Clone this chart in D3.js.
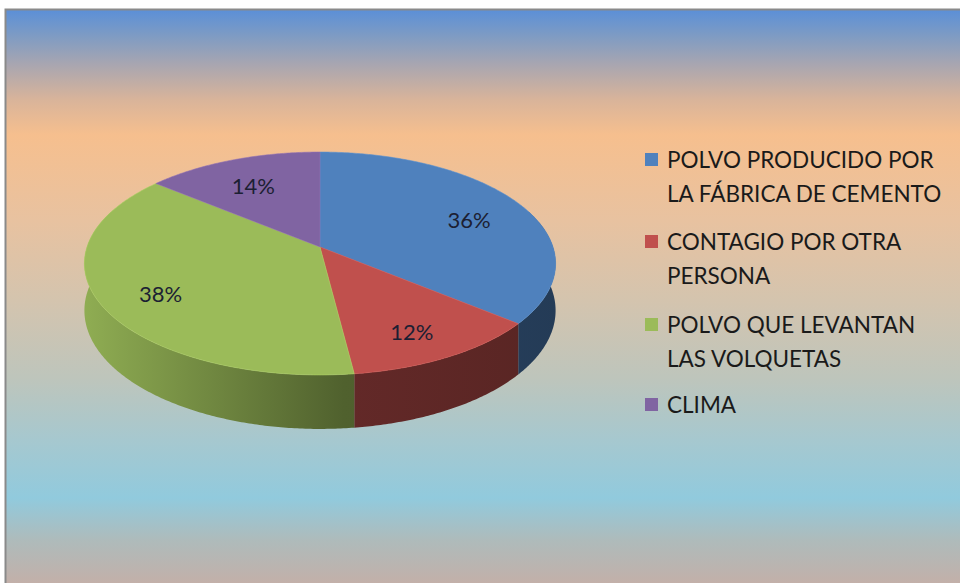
<!DOCTYPE html>
<html>
<head>
<meta charset="utf-8">
<script src="https://cdn.jsdelivr.net/npm/d3@7"></script>
<style>
  html, body { margin: 0; padding: 0; background: #fff; }
  svg { display: block; }
</style>
</head>
<body>
<div id="wrapper"></div>
<script>
// data
const categories = [
  "POLVO PRODUCIDO POR LA FÁBRICA DE CEMENTO",
  "CONTAGIO POR OTRA PERSONA",
  "POLVO QUE LEVANTAN LAS VOLQUETAS",
  "CLIMA",
]
const legendLines = [
  ["POLVO PRODUCIDO POR", "LA FÁBRICA DE CEMENTO"],
  ["CONTAGIO POR OTRA", "PERSONA"],
  ["POLVO QUE LEVANTAN", "LAS VOLQUETAS"],
  ["CLIMA"],
]
const values = [36, 12, 38, 14]
const colors = ["#4f81bd", "#c0504d", "#9bbb59", "#8064a2"]

function drawPie() {
  const dimensions = { width: 960, height: 583 }

  const svg = d3.select("#wrapper")
    .append("svg")
      .attr("width", dimensions.width)
      .attr("height", dimensions.height)

  const defs = svg.append("defs")

  // background gradient
  const bgStops = [
    [9, "#5a8fd8"], [35, "#7d9bc4"], [65, "#a9a6b0"], [100, "#d9b49a"],
    [135, "#f6bf8e"], [220, "#e8c2a0"], [300, "#d4c4ae"], [380, "#bdc5bc"],
    [440, "#a6c8cf"], [498, "#91cadd"], [540, "#aebbbb"], [590, "#c6aea6"],
  ]
  const bg = defs.append("linearGradient")
      .attr("id", "bg")
      .attr("gradientUnits", "userSpaceOnUse")
      .attr("x1", 0).attr("x2", 0).attr("y1", 9).attr("y2", 590)
  bg.selectAll("stop").data(bgStops).join("stop")
      .attr("offset", d => (d[0] - 9) / (590 - 9))
      .attr("stop-color", d => d[1])

  svg.append("rect")
      .attr("x", 5).attr("y", 9)
      .attr("width", dimensions.width).attr("height", dimensions.height)
      .attr("fill", "url(#bg)")
  svg.append("path")
      .attr("d", `M5.5,${dimensions.height} V9.5 H${dimensions.width}`)
      .attr("fill", "none")
      .attr("stroke", "#8a8a8a")
      .attr("stroke-width", 2)

  // 3D pie with a simple perspective projection
  const pie3d = { cx: 320, cy: 247, rx: 233, ry: 109, persp: 0.148, depth: 46 }
  const project = (a, f = 1, dz = 0) => {
    const u = f * Math.sin(a)
    const v = -f * Math.cos(a)
    const w = 1 - pie3d.persp * v
    return [pie3d.cx + pie3d.rx * u / w, pie3d.cy + (pie3d.ry * v + dz) / w]
  }

  const arcs = d3.pie().sort(null).value(d => d)(values)
  const line = d3.line()
  const sample = (a0, a1, f, dz) => {
    const n = Math.max(2, Math.ceil((a1 - a0) / 0.01))
    return d3.range(n + 1).map(i => project(a0 + (a1 - a0) * i / n, f, dz))
  }

  // side gradients
  arcs.forEach((d, i) => {
    const g = defs.append("linearGradient")
        .attr("id", `side${i}`)
        .attr("gradientUnits", "userSpaceOnUse")
        .attr("x1", pie3d.cx - 240).attr("x2", pie3d.cx + 240)
        .attr("y1", 0).attr("y2", 0)
    const base = d3.color(colors[i])
    g.selectAll("stop")
      .data([[0, 0.2], [0.55, 1.85], [1, 2.2]])
      .join("stop")
        .attr("offset", s => s[0])
        .attr("stop-color", s => base.darker(s[1]).formatHex())
  })

  const sides = svg.append("g")
  arcs.forEach((d, i) => {
    const s = Math.max(d.startAngle, Math.PI / 2 - 0.35)
    const e = Math.min(d.endAngle, 3 * Math.PI / 2 + 0.35)
    if (s >= e) return
    const pts = sample(s, e, 1, 0).concat(sample(s, e, 1, pie3d.depth).reverse())
    sides.append("path")
        .attr("d", line(pts) + "Z")
        .attr("fill", `url(#side${i})`)
  })

  const tops = svg.append("g")
  arcs.forEach((d, i) => {
    const pts = [project(0, 0)].concat(sample(d.startAngle, d.endAngle, 1, 0))
    tops.append("path")
        .attr("d", line(pts) + "Z")
        .attr("fill", colors[i])
        .attr("stroke", d3.color(colors[i]).brighter(0.3))
        .attr("stroke-width", 0.6)
  })

  // data labels
  svg.append("g").selectAll("text")
    .data(arcs)
    .join("text")
      .attr("x", d => project((d.startAngle + d.endAngle) / 2, 0.74, 6)[0])
      .attr("y", d => project((d.startAngle + d.endAngle) / 2, 0.74, 6)[1] + 8)
      .attr("text-anchor", "middle")
      .attr("font-family", "Lato, 'Open Sans', sans-serif")
      .attr("font-size", 22)
      .attr("fill", "#1c1f33")
      .text(d => `${d.data}%`)

  // legend
  const legendY = [160, 242, 325, 405]
  const legend = svg.append("g")
  categories.forEach((c, i) => {
    const item = legend.append("g")
        .attr("transform", `translate(645, ${legendY[i]})`)
    item.append("rect")
        .attr("x", 0).attr("y", -7)
        .attr("width", 13).attr("height", 13)
        .attr("fill", colors[i])
    item.append("text")
        .attr("x", 22).attr("y", 8)
        .attr("font-family", "Lato, 'Open Sans', sans-serif")
        .attr("font-size", 22.5)
        .attr("fill", "#1a1a1a")
      .selectAll("tspan")
      .data(legendLines[i])
      .join("tspan")
        .attr("x", 22)
        .attr("dy", (l, j) => j === 0 ? 0 : 34)
        .text(l => l)
  })
}
drawPie()
</script>
</body>
</html>
